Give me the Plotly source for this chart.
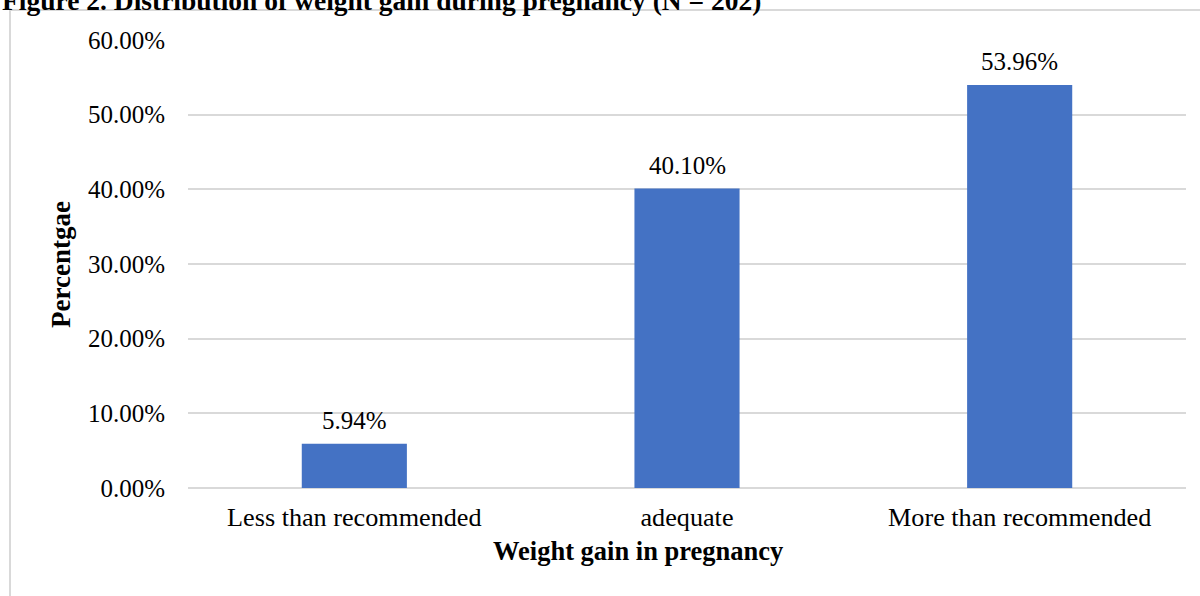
import plotly.graph_objects as go

# Weight gain categories and share of participants in each
categories = ["Less than recommended", "adequate", "More than recommended"]
shares = [0.0594, 0.4010, 0.5396]
share_labels = ["5.94%", "40.10%", "53.96%"]
y_ticks = [0.0, 0.1, 0.2, 0.3, 0.4, 0.5, 0.6]

FONT = "Liberation Serif, Times New Roman, serif"
BAR_COLOR = "#4472C4"
GRID = "#d9d9d9"

W, H = 1200, 596
L, R, T, B = 188, 14, 40, 108
PW, PH = W - L - R, H - T - B


def px_x(px):
    return (px - L) / PW


def px_y(py):
    return (H - B - py) / PH


fig = go.Figure()
fig.add_trace(go.Bar(
    x=categories,
    y=shares,
    marker=dict(color=BAR_COLOR, line=dict(width=0)),
    hoverinfo="skip",
))

# value labels above each bar
for cat, val, lab in zip(categories, shares, share_labels):
    fig.add_annotation(
        x=cat, y=val, xref="x", yref="y", text=lab, showarrow=False,
        yanchor="bottom", yshift=8,
        font=dict(family=FONT, size=25, color="#000000"),
    )

# figure caption, mostly above the page edge
fig.add_annotation(
    x=px_x(0), y=px_y(18), xref="paper", yref="paper",
    text="<b>Figure 2. Distribution of weight gain during pregnancy (N = 202)</b>",
    showarrow=False, xanchor="left", yanchor="bottom",
    font=dict(family=FONT, size=27.5, color="#000000"),
)

# axis titles
fig.add_annotation(
    x=px_x(638), y=px_y(551), xref="paper", yref="paper",
    text="<b>Weight gain in pregnancy</b>", showarrow=False,
    xanchor="center", yanchor="middle",
    font=dict(family=FONT, size=26.5, color="#000000"),
)
fig.add_annotation(
    x=px_x(61), y=px_y(265), xref="paper", yref="paper",
    text="<b>Percentgae</b>", showarrow=False, textangle=-90,
    xanchor="center", yanchor="middle",
    font=dict(family=FONT, size=27, color="#000000"),
)

# chart area border (left and top edges)
fig.add_shape(type="line", xref="paper", yref="paper",
              x0=px_x(10), x1=px_x(10), y0=px_y(10), y1=px_y(620),
              line=dict(color=GRID, width=2))
fig.add_shape(type="line", xref="paper", yref="paper",
              x0=px_x(10), x1=px_x(1220), y0=px_y(10), y1=px_y(10),
              line=dict(color=GRID, width=2))

fig.update_layout(
    width=W, height=H,
    margin=dict(l=L, r=R, t=T, b=B),
    paper_bgcolor="#ffffff",
    plot_bgcolor="#ffffff",
    showlegend=False,
    bargap=0.684,
    font=dict(family=FONT, size=25, color="#000000"),
)
fig.update_xaxes(
    showgrid=False, showline=False, zeroline=False, ticks="",
    tickfont=dict(family=FONT, size=26.2, color="#000000"),
    ticklabelstandoff=11,
)
fig.update_yaxes(
    range=[0, 0.6], tickvals=y_ticks, tickformat=".2%",
    showgrid=True, gridcolor=GRID, gridwidth=1.5,
    zeroline=True, zerolinecolor=GRID, zerolinewidth=1.5,
    showline=False, ticks="",
    tickfont=dict(family=FONT, size=25, color="#000000"),
    ticklabelstandoff=22,
)

fig.write_html("out.html")
